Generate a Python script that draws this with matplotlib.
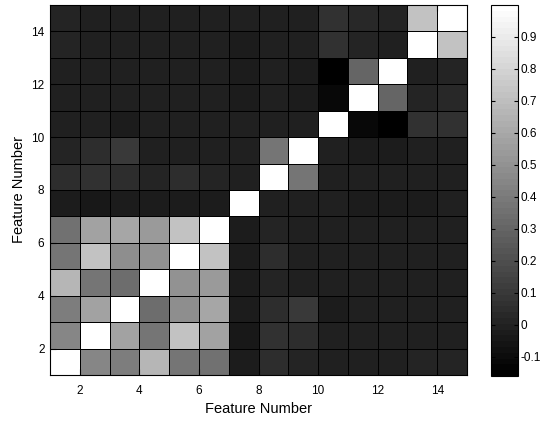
import numpy as np
import matplotlib
matplotlib.use("Agg")
import matplotlib.pyplot as plt

plt.rcParams['font.family'] = ['Liberation Sans', 'DejaVu Sans']

# correlation matrix between features 1..14 (row = feature, col = feature)
corr = [
    [1.00, 0.44, 0.41, 0.66, 0.38, 0.35, -0.02, 0.04, 0.01, 0.00, 0.00, 0.00, 0.01, 0.01],
    [0.44, 1.00, 0.57, 0.37, 0.71, 0.57, -0.04, 0.06, 0.04, -0.01, -0.01, -0.01, 0.00, 0.00],
    [0.41, 0.57, 1.00, 0.33, 0.48, 0.60, -0.03, 0.05, 0.10, -0.03, -0.01, -0.01, 0.00, 0.00],
    [0.66, 0.37, 0.33, 1.00, 0.50, 0.53, -0.02, 0.02, -0.01, -0.01, 0.00, 0.00, 0.00, 0.00],
    [0.38, 0.71, 0.48, 0.50, 1.00, 0.71, -0.03, 0.04, 0.00, -0.01, -0.01, -0.01, -0.01, 0.00],
    [0.35, 0.57, 0.60, 0.53, 0.71, 1.00, -0.03, 0.02, 0.00, -0.01, -0.01, -0.01, -0.01, 0.00],
    [-0.02, -0.04, -0.03, -0.02, -0.03, -0.03, 1.00, -0.01, 0.00, -0.01, -0.02, -0.02, -0.02, -0.01],
    [0.04, 0.06, 0.05, 0.02, 0.04, 0.02, -0.01, 1.00, 0.37, -0.01, -0.01, -0.01, -0.01, -0.01],
    [0.01, 0.04, 0.10, -0.01, 0.00, 0.00, 0.00, 0.37, 1.00, -0.01, -0.02, -0.02, -0.01, -0.01],
    [0.00, -0.01, -0.03, -0.01, -0.01, -0.01, -0.01, -0.01, -0.01, 1.00, -0.12, -0.16, 0.06, 0.07],
    [0.00, -0.01, -0.01, 0.00, -0.01, -0.01, -0.02, -0.01, -0.02, -0.12, 1.00, 0.31, 0.01, 0.03],
    [0.00, -0.01, -0.01, 0.00, -0.01, -0.01, -0.02, -0.01, -0.02, -0.16, 0.31, 1.00, 0.00, 0.02],
    [0.01, 0.00, 0.00, 0.00, -0.01, -0.01, -0.02, -0.01, -0.01, 0.06, 0.01, 0.00, 1.00, 0.71],
    [0.01, 0.00, 0.00, 0.00, 0.00, 0.00, -0.01, -0.01, -0.01, 0.07, 0.03, 0.02, 0.71, 1.00],
]
ticks = [2, 4, 6, 8, 10, 12, 14]
cbar_ticks = [-0.1, 0, 0.1, 0.2, 0.3, 0.4, 0.5, 0.6, 0.7, 0.8, 0.9]

C = np.array(corr)
n = C.shape[0]
edges = np.arange(1, n + 2)

fig = plt.figure(figsize=(5.42, 4.21), dpi=100)
ax = fig.add_axes([50/542, 46/421, 417/542, 370/421])
mesh = ax.pcolormesh(edges, edges, C, cmap=plt.get_cmap('gray', 64),
                     edgecolors='k', linewidth=0.6)
ax.set_xlim(1, n + 1)
ax.set_ylim(1, n + 1)
ax.set_xticks(ticks)
ax.set_yticks(ticks)
ax.tick_params(direction='in', top=True, right=True, length=4, labelsize=8.5)
ax.tick_params(axis='x', pad=7)
ax.tick_params(axis='y', pad=4)
ax.set_xlabel('Feature Number', fontsize=10.5)
ax.set_ylabel('Feature Number', fontsize=10.5)
for s in ax.spines.values():
    s.set_linewidth(0.8)

cax = fig.add_axes([491/542, 45/421, 27/542, 371/421])
cb = fig.colorbar(mesh, cax=cax, ticks=cbar_ticks)
cb.ax.set_yticklabels(['-0.1', '0', '0.1', '0.2', '0.3', '0.4', '0.5', '0.6', '0.7', '0.8', '0.9'])
cb.ax.tick_params(direction='in', left=True, right=True, length=3, labelsize=8.5, pad=2)
cb.outline.set_linewidth(0.8)

fig.savefig('out.png', dpi=100)
